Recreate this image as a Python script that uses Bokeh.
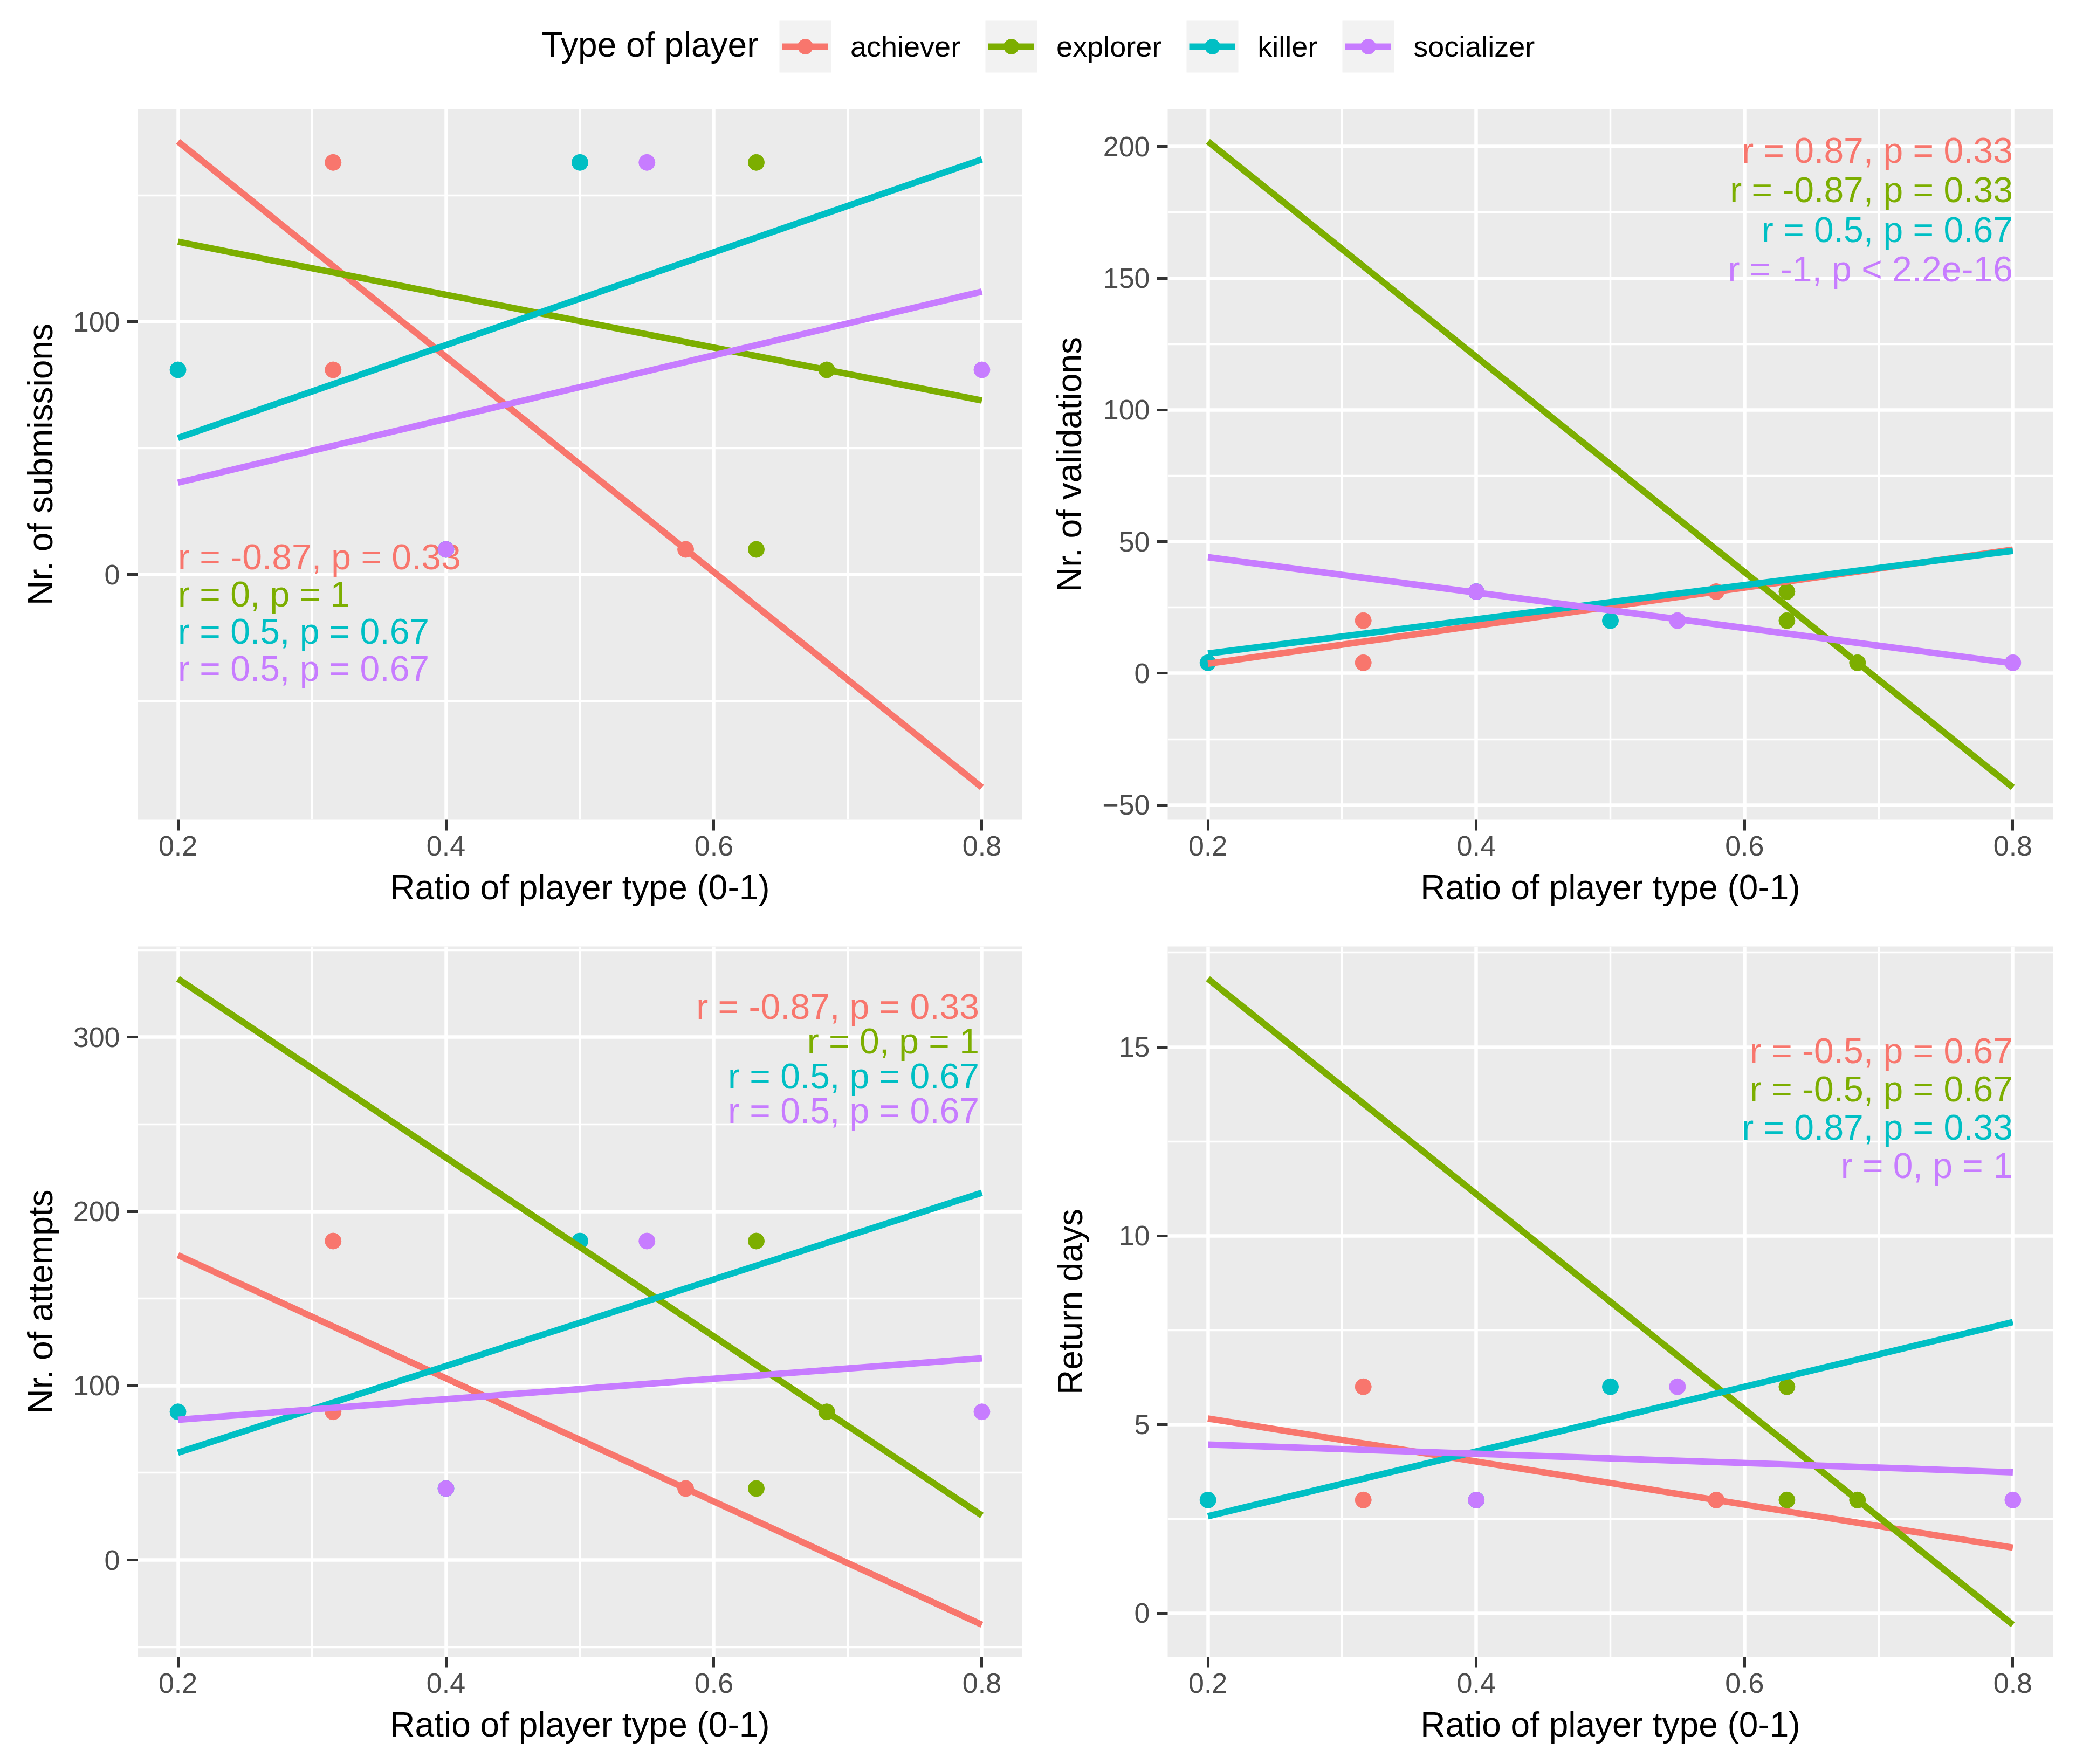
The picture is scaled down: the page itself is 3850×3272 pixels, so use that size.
import numpy as np
from bokeh.plotting import figure
from bokeh.layouts import column, row
from bokeh.models import Range1d, FixedTicker, Legend, LegendItem, Label, ColumnDataSource
from bokeh.embed import file_html
from bokeh.resources import INLINE
from bokeh.core.properties import value

FONT = "Liberation Sans"

# ---------------- data ----------------
player_types = ["achiever", "explorer", "killer", "socializer"]
type_colors = ["#F8766D", "#7CAE00", "#00BFC4", "#C77CFF"]

# ratio of each player type in the three groups (A, B, C)
ratio_achiever = [0.3158, 0.3158, 0.5789]
ratio_explorer = [0.6316, 0.6842, 0.6316]
ratio_killer = [0.5, 0.2, 0.4]
ratio_socializer = [0.55, 0.8, 0.4]

# outcome of each group (A, B, C)
nr_submissions = [163, 81, 10]
nr_validations = [20, 4, 31]
nr_attempts = [183, 85, 41]
return_days = [6, 3, 3]

x_ticks = [0.2, 0.4, 0.6, 0.8]
x_minor = [0.3, 0.5, 0.7]
sub_ticks = [0, 100]
sub_minor = [-50, 50, 150]
val_ticks = [-50, 0, 50, 100, 150, 200]
val_minor = [-25, 25, 75, 125, 175]
att_ticks = [0, 100, 200, 300]
att_minor = [-50, 50, 150, 250, 350]
ret_ticks = [0, 5, 10, 15]
ret_minor = [2.5, 7.5, 12.5, 17.5]

cor_submissions = ["r = -0.87, p = 0.33", "r = 0, p = 1", "r = 0.5, p = 0.67", "r = 0.5, p = 0.67"]
cor_validations = ["r = 0.87, p = 0.33", "r = -0.87, p = 0.33", "r = 0.5, p = 0.67", "r = -1, p < 2.2e-16"]
cor_attempts = ["r = -0.87, p = 0.33", "r = 0, p = 1", "r = 0.5, p = 0.67", "r = 0.5, p = 0.67"]
cor_return = ["r = -0.5, p = 0.67", "r = -0.5, p = 0.67", "r = 0.87, p = 0.33", "r = 0, p = 1"]

# ---------------- helpers ----------------
all_ratios = [ratio_achiever, ratio_explorer, ratio_killer, ratio_socializer]
x_lo = min(min(r) for r in all_ratios)
x_hi = max(max(r) for r in all_ratios)
x_pad = 0.05 * (x_hi - x_lo)


def fit_line(xs, ys):
    slope, intercept = np.polyfit(np.asarray(xs, float), np.asarray(ys, float), 1)
    lx = np.array([x_lo, x_hi])
    return lx, slope * lx + intercept


def style_axis(ax):
    ax.axis_line_color = None
    ax.major_tick_line_color = "#333333"
    ax.major_tick_line_width = 5
    ax.major_tick_out = 20
    ax.major_tick_in = 0
    ax.minor_tick_line_color = None
    ax.major_label_text_font = FONT
    ax.major_label_text_font_size = "52px"
    ax.major_label_text_color = "#4D4D4D"
    ax.axis_label_text_font = FONT
    ax.axis_label_text_font_size = "64px"
    ax.axis_label_text_font_style = "normal"
    ax.axis_label_text_color = "black"


def make_panel(yvals, ytitle, yticks, yminor, cor_labels, cor_at_left, cor_y, cor_step,
               cor_xoff, w, h, mb, ylab_standoff):
    fits = [fit_line(r, yvals) for r in all_ratios]
    ys_all = list(yvals) + [v for f in fits for v in f[1]]
    y_lo, y_hi = min(ys_all), max(ys_all)
    y_pad = 0.05 * (y_hi - y_lo)
    p = figure(width=w, height=h, output_backend="svg", toolbar_location=None,
               x_range=Range1d(x_lo - x_pad, x_hi + x_pad),
               y_range=Range1d(y_lo - y_pad, y_hi + y_pad),
               min_border_left=mb[0], min_border_right=mb[1],
               min_border_top=mb[2], min_border_bottom=mb[3],
               x_axis_label="Ratio of player type (0-1)", y_axis_label=ytitle)
    p.background_fill_color = "#EBEBEB"
    p.border_fill_color = "white"
    p.outline_line_color = None
    p.xaxis.ticker = FixedTicker(ticks=x_ticks, minor_ticks=x_minor)
    p.yaxis.ticker = FixedTicker(ticks=yticks, minor_ticks=yminor)
    for g in (p.xgrid[0], p.ygrid[0]):
        g.grid_line_color = "white"
        g.grid_line_width = 6.5
        g.minor_grid_line_color = "white"
        g.minor_grid_line_width = 3.5
    style_axis(p.xaxis[0])
    style_axis(p.yaxis[0])
    p.xaxis[0].major_label_standoff = 10
    p.xaxis[0].axis_label_standoff = 20
    p.yaxis[0].major_label_standoff = 13
    p.yaxis[0].axis_label_standoff = ylab_standoff

    # correlation labels (drawn first, under the points)
    cx = x_lo if cor_at_left else x_hi
    n = len(cor_labels)
    src = ColumnDataSource(dict(x=[cx] * n, y=[cor_y] * n, text=cor_labels, color=type_colors,
                                yo=[-20 + i * cor_step for i in range(n)]))
    p.text(x="x", y="y", text="text", source=src, text_color="color", y_offset="yo",
           x_offset=cor_xoff, text_align="left" if cor_at_left else "right",
           text_baseline="alphabetic", text_font=value(FONT), text_font_size="66px")
    # points
    for r, c in zip(all_ratios, type_colors):
        p.scatter(r, yvals, size=30, fill_color=c, line_color=c, line_width=1)
    # regression lines
    for (lx, ly), c in zip(fits, type_colors):
        p.line(lx, ly, line_color=c, line_width=12)
    return p


p1 = make_panel(nr_submissions, "Nr. of submissions", sub_ticks, sub_minor, cor_submissions,
                True, 2.77, 69, 0, 1938, 1553, (255, 43, 24, 211), 22)
p2 = make_panel(nr_validations, "Nr. of validations", val_ticks, val_minor, cor_validations,
                False, 194.5, 73.5, 0, 1904, 1553, (227, 35, 24, 211), 22)
p3 = make_panel(nr_attempts, "Nr. of attempts", att_ticks, att_minor, cor_attempts,
                False, 311.4, 64.5, -5, 1938, 1533, (255, 43, 24, 191), 22)
p4 = make_panel(return_days, "Return days", ret_ticks, ret_minor, cor_return,
                False, 14.62, 71, 0, 1904, 1533, (227, 35, 24, 191), 51)

# ---------------- legend strip ----------------
leg = figure(width=3842, height=178, output_backend="svg", toolbar_location=None,
             x_range=Range1d(0, 1), y_range=Range1d(0, 1), min_border=0,
             x_axis_location=None, y_axis_location=None)
leg.grid.visible = False
leg.outline_line_color = None
leg.background_fill_color = "white"
leg.border_fill_color = "white"

nan_pt = [np.nan]
items_box, items_key = [], []
for name, c in zip(player_types, type_colors):
    b = leg.quad(left=nan_pt, right=nan_pt, bottom=nan_pt, top=nan_pt,
                 fill_color="#F2F2F2", line_color=None)
    ln = leg.line(x=nan_pt, y=nan_pt, line_color=c, line_width=12)
    s = leg.scatter(x=nan_pt, y=nan_pt, size=30, fill_color=c, line_color=c)
    items_box.append(LegendItem(label=name, renderers=[b]))
    items_key.append(LegendItem(label=name, renderers=[ln, s]))

common = dict(orientation="horizontal", padding=0, margin=0, border_line_color=None,
              background_fill_alpha=0, label_text_font=FONT, label_text_font_size="54px",
              label_text_color="black")
legA = Legend(items=items_box, location=(1433, 32), glyph_width=120, glyph_height=120,
              label_standoff=24, spacing=34, label_text_alpha=0, **common)
legB = Legend(items=items_key, location=(1450, 57), glyph_width=86, glyph_height=70,
              label_standoff=41, spacing=51, **common)
leg.add_layout(legA, "center")
leg.add_layout(legB, "center")
leg.add_layout(Label(x=1004, y=96, x_units="screen", y_units="screen", text="Type of player",
                     text_font=FONT, text_font_size="64px", text_baseline="middle",
                     text_align="left", text_color="black"))

layout = column(leg, row(p1, p2), row(p3, p4))
open("out.html", "w").write(file_html(layout, INLINE))
